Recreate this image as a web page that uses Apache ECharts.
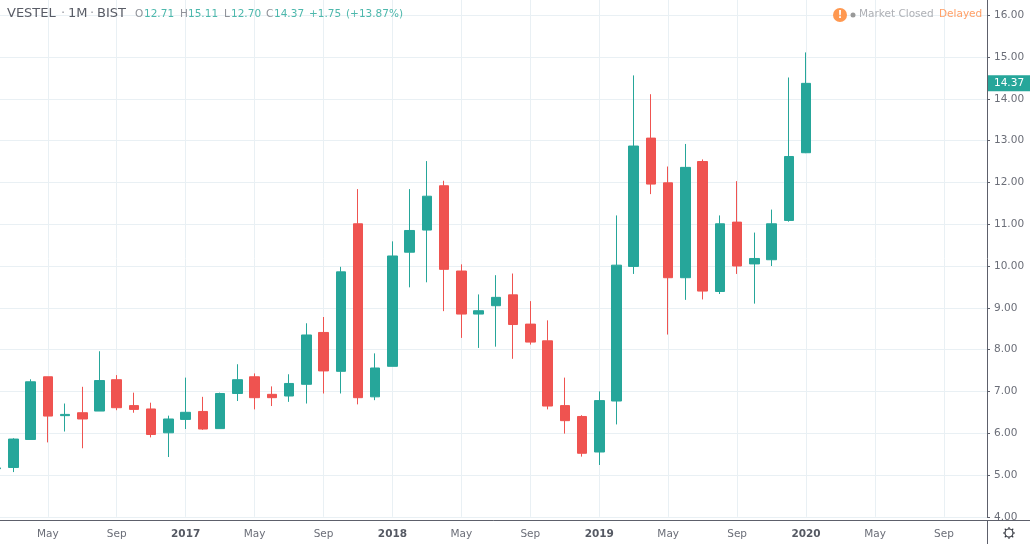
<!DOCTYPE html>
<html>
<head>
<meta charset="utf-8">
<style>
  html, body { margin: 0; padding: 0; background: #fff; }
  #chart { width: 1030px; height: 544px; }
</style>
<script src="https://cdn.jsdelivr.net/npm/echarts@6/dist/echarts.min.js"></script>
</head>
<body>
<div id="chart"></div>
<script>
const months = [
  "Feb", "Mar", "Apr", "May", "Jun", "Jul", "Aug", "Sep", "Oct", "Nov", "Dec",
  "2017", "Feb", "Mar", "Apr", "May", "Jun", "Jul", "Aug", "Sep", "Oct", "Nov", "Dec",
  "2018", "Feb", "Mar", "Apr", "May", "Jun", "Jul", "Aug", "Sep", "Oct", "Nov", "Dec",
  "2019", "Feb", "Mar", "Apr", "May", "Jun", "Jul", "Aug", "Sep", "Oct", "Nov", "Dec",
  "2020", "Feb", "Mar", "Apr", "May", "Jun", "Jul", "Aug", "Sep", "Oct", "Nov",
];
const opens = [
  5.15, 5.18, 5.85, 7.35, 6.42, 6.49, 6.53, 7.28, 6.66, 6.58, 6.01,
  6.33, 6.52, 6.11, 6.95, 7.35, 6.93, 6.89, 7.17, 8.41, 7.48, 11.01, 6.87,
  7.60, 10.33, 10.86, 11.92, 9.88, 8.85, 9.05, 9.31, 8.61, 8.21, 6.66, 6.40,
  5.55, 6.77, 9.99, 13.06, 11.99, 9.72, 12.50, 9.39, 11.05, 10.05, 10.15, 11.09,
  12.71,
];
const closes = [
  5.17, 5.86, 7.23, 6.41, 6.45, 6.34, 7.26, 6.61, 6.57, 5.97, 6.34,
  6.50, 6.10, 6.95, 7.28, 6.85, 6.85, 7.19, 8.35, 7.49, 9.86, 6.85, 7.56,
  10.24, 10.85, 11.67, 9.92, 8.85, 8.93, 9.25, 8.60, 8.18, 6.65, 6.30, 5.52,
  6.78, 10.02, 12.87, 11.96, 9.72, 12.36, 9.40, 11.01, 10.00, 10.18, 11.01, 12.62,
  14.37,
];
const lows = [
  5.14, 5.07, 5.85, 5.78, 6.04, 5.64, 6.53, 6.55, 6.49, 5.90, 5.43,
  6.10, 6.08, 6.11, 6.77, 6.57, 6.65, 6.75, 6.71, 6.95, 6.95, 6.69, 6.79,
  7.60, 9.49, 9.61, 8.92, 8.28, 8.04, 8.07, 7.78, 8.12, 6.57, 5.99, 5.44,
  5.24, 6.21, 9.81, 11.72, 8.36, 9.19, 9.20, 9.33, 9.81, 9.10, 10.00, 11.06,
  12.70,
];
const highs = [
  5.18, 5.88, 7.29, 7.35, 6.71, 7.11, 7.96, 7.39, 6.97, 6.73, 6.42,
  7.33, 6.87, 6.97, 7.65, 7.43, 7.12, 7.41, 8.63, 8.78, 9.98, 11.84, 7.91,
  10.59, 11.84, 12.51, 12.04, 10.04, 9.32, 9.78, 9.82, 9.16, 8.70, 7.33, 6.43,
  7.00, 11.21, 14.56, 14.11, 12.38, 12.92, 12.55, 11.21, 12.03, 10.80, 11.35, 14.51,
  15.11,
];
const lastPrice = 14.37;

const textFont = "DejaVu Sans";
const upColor = "#26a69a";
const downColor = "#ef5350";
const legendTeal = "#4db8ac";
const gridColor = "#e9f0f4";
const axisColor = "#5d606b";
const labelColor = "#6b6e78";

const chart = echarts.init(document.getElementById("chart"), null, { renderer: "canvas" });

const everyFourth = (i) => i % 4 === 3;

function headerText(x, text, fill, size) {
  return {
    type: "text",
    x: x,
    y: 14,
    silent: true,
    style: {
      text: text,
      fill: fill,
      font: (size || 10.5) + "px " + textFont,
      textVerticalAlign: "middle",
    },
  };
}

function plainLine(x1, y1, x2, y2, stroke, lineWidth) {
  return { type: "line", shape: { x1, y1, x2, y2 }, style: { stroke, lineWidth }, silent: true };
}

chart.setOption({
  backgroundColor: "#ffffff",
  animation: false,
  grid: { left: -12.5, right: 43, top: 0, bottom: 27.2, outerBoundsMode: "none" },
  xAxis: {
    type: "category",
    data: months,
    boundaryGap: true,
    offset: 3.9,
    axisLine: { lineStyle: { color: axisColor, width: 1 } },
    axisTick: { alignWithLabel: true, interval: everyFourth, length: 3, lineStyle: { color: axisColor } },
    axisLabel: {
      interval: everyFourth,
      margin: 8,
      color: labelColor,
      fontFamily: textFont,
      fontSize: 10.5,
      formatter: (value) => (/^\d/.test(value) ? "{year|" + value + "}" : value),
      rich: {
        year: { fontFamily: textFont, fontSize: 10.5, fontWeight: "bold", color: "#555963" },
      },
    },
    splitLine: { show: true, alignWithLabel: true, interval: everyFourth, lineStyle: { color: gridColor, width: 1 } },
  },
  yAxis: {
    type: "value",
    position: "right",
    min: 4,
    max: 16.364,
    interval: 1,
    axisLine: { show: true, lineStyle: { color: axisColor, width: 1 } },
    axisTick: { show: true, length: 3, lineStyle: { color: axisColor } },
    axisLabel: {
      margin: 7,
      color: labelColor,
      fontFamily: textFont,
      fontSize: 10.5,
      showMaxLabel: false,
      formatter: (value) => value.toFixed(2),
    },
    splitLine: { show: true, showMaxLine: false, lineStyle: { color: gridColor, width: 1 } },
  },
  series: [
    {
      type: "candlestick",
      barWidth: 10,
      data: opens.map((o, i) => [o, closes[i], lows[i], highs[i]]),
      itemStyle: {
        color: upColor,
        color0: downColor,
        borderColor: upColor,
        borderColor0: downColor,
        borderWidth: 1,
      },
    },
  ],
});

const lastY = chart.convertToPixel({ yAxisIndex: 0 }, lastPrice);

// spokes of the settings gear
const gearSpokes = [];
for (let a = 0; a < 8; a++) {
  const c = Math.cos((a * Math.PI) / 4);
  const s = Math.sin((a * Math.PI) / 4);
  gearSpokes.push(plainLine(1009 + 4 * c, 533 + 4 * s, 1009 + 6 * c, 533 + 6 * s, "#33363f", 1.1));
}

chart.setOption({
  graphic: [
    headerText(7, "VESTEL", "#595c66", 13),
    headerText(61, "·", "#9a9ca3", 13),
    headerText(68, "1M", "#595c66", 13),
    headerText(90, "·", "#9a9ca3", 13),
    headerText(97, "BIST", "#595c66", 13),
    headerText(135, "O", "#8f9198"),
    headerText(144, "12.71", legendTeal),
    headerText(180, "H", "#8f9198"),
    headerText(188, "15.11", legendTeal),
    headerText(224, "L", "#8f9198"),
    headerText(231, "12.70", legendTeal),
    headerText(266, "C", "#8f9198"),
    headerText(274, "14.37", legendTeal),
    headerText(309, "+1.75", legendTeal),
    headerText(346, "(+13.87%)", legendTeal),
    { type: "circle", shape: { cx: 840, cy: 15, r: 7 }, style: { fill: "#ff9850" }, silent: true },
    {
      type: "text", x: 840, y: 15, silent: true,
      style: { text: "!", fill: "#fff", font: "bold 10px " + textFont, textAlign: "center", textVerticalAlign: "middle" },
    },
    { type: "circle", shape: { cx: 853, cy: 15, r: 2.5 }, style: { fill: "#999" }, silent: true },
    headerText(859, "Market Closed", "#aeb0b5"),
    headerText(939, "Delayed", "#ff9f66"),
    // price scale and time scale run on to the window edge
    plainLine(987.5, 521, 987.5, 544, axisColor, 1),
    plainLine(987, 520.5, 1030, 520.5, axisColor, 1),
    // last price tag
    { type: "rect", shape: { x: 987, y: lastY - 8, width: 43, height: 16 }, style: { fill: upColor }, silent: true },
    {
      type: "text", x: 994, y: lastY, silent: true,
      style: { text: lastPrice.toFixed(2), fill: "#fff", font: "10.5px " + textFont, textVerticalAlign: "middle" },
    },
    // settings gear
    { type: "circle", shape: { cx: 1009, cy: 533, r: 4 }, style: { fill: "none", stroke: "#33363f", lineWidth: 1.2 }, silent: true },
    ...gearSpokes,
  ],
});

window.addEventListener("resize", () => chart.resize());
</script>
</body>
</html>
